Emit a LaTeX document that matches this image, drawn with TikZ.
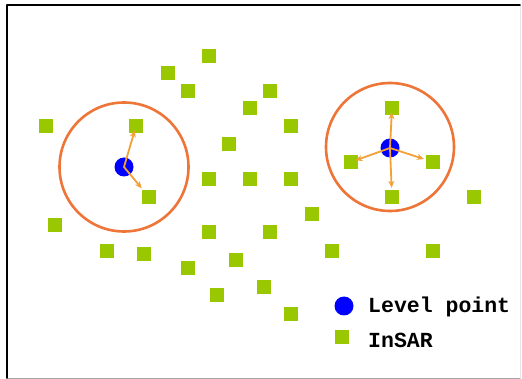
\documentclass[tikz,border=0pt]{standalone}
\usepackage{fontspec}
\setmonofont{Liberation Mono}
\usetikzlibrary{arrows.meta}
\definecolor{insargreen}{HTML}{99C800}
\definecolor{ringorange}{HTML}{EE7438}
\definecolor{arroworange}{HTML}{F3A036}
\tikzset{
  insar/.style={rectangle,fill=insargreen,minimum size=14pt,inner sep=0pt},
  level/.style={circle,fill=blue,minimum size=19pt,inner sep=0pt},
  ring/.style={draw=ringorange,line width=2.6pt},
  link/.style={-{Stealth[length=7pt,width=6pt]},draw=arroworange,line width=1.8pt,shorten >=-3pt},
  legendtext/.style={anchor=west,inner sep=0pt,font=\ttfamily\bfseries\fontsize{21.5}{24}\selectfont}
}
\begin{document}
\begin{tikzpicture}[line cap=round,line join=round,x=1pt,y=-1pt]
		\useasboundingbox (0,0) rectangle (522,379);
		% frame
		\draw [black!35,line width=1pt] (7,378)-- (520,378);
		\draw [black!10,line width=1pt] (520,5)-- (520,378);
		\draw [line width=1.6pt] (7,378)-- (7,5)-- (520,5);
		% circles round the level points
		\draw [ring] (124,167) circle (64.5);
		\draw [ring] (390,147) circle (64);
		% InSAR points
		\node [insar] (s1) at (209,56) {};
		\node [insar] (s2) at (168,73) {};
		\node [insar] (s3) at (188,91) {};
		\node [insar] (s4) at (270,91) {};
		\node [insar] (s5) at (250,108) {};
		\node [insar] (s6) at (46,126) {};
		\node [insar] (s7) at (136,126) {};
		\node [insar] (s8) at (291,126) {};
		\node [insar] (s9) at (229,144) {};
		\node [insar] (s10) at (209,179) {};
		\node [insar] (s11) at (250,179) {};
		\node [insar] (s12) at (291,179) {};
		\node [insar] (s13) at (149,197) {};
		\node [insar] (s14) at (392,108) {};
		\node [insar] (s15) at (351,162) {};
		\node [insar] (s16) at (433,162) {};
		\node [insar] (s17) at (392,197) {};
		\node [insar] (s18) at (474,197) {};
		\node [insar] (s19) at (312,214) {};
		\node [insar] (s20) at (55,225) {};
		\node [insar] (s21) at (209,232) {};
		\node [insar] (s22) at (270,232) {};
		\node [insar] (s23) at (107,251) {};
		\node [insar] (s24) at (144,254) {};
		\node [insar] (s25) at (332,251) {};
		\node [insar] (s26) at (433,251) {};
		\node [insar] (s27) at (236,260) {};
		\node [insar] (s28) at (188,268) {};
		\node [insar] (s29) at (264,287) {};
		\node [insar] (s30) at (217,295) {};
		\node [insar] (s31) at (291,314) {};
		% level points
		\node [level] (p1) at (124,167) {};
		\node [level] (p2) at (390,148) {};
		% links
		\draw [link] (p1.center)-- (s7);
		\draw [link,shorten >=2pt] (p1.center)-- (s13);
		\draw [link] (p2.center)-- (s14);
		\draw [link] (p2.center)-- (s15);
		\draw [link,shorten >=2pt] (p2.center)-- (s16);
		\draw [link,shorten >=2pt] (p2.center)-- (s17);
		% legend
		\node [level] (kp) at (344,306) {};
		\node [insar] (ks) at (342,337) {};
		\node [legendtext] (kpt) at (368,307) {Level point};
		\node [legendtext] (kst) at (368,340) {InSAR};
		\end{tikzpicture}
\end{document}
